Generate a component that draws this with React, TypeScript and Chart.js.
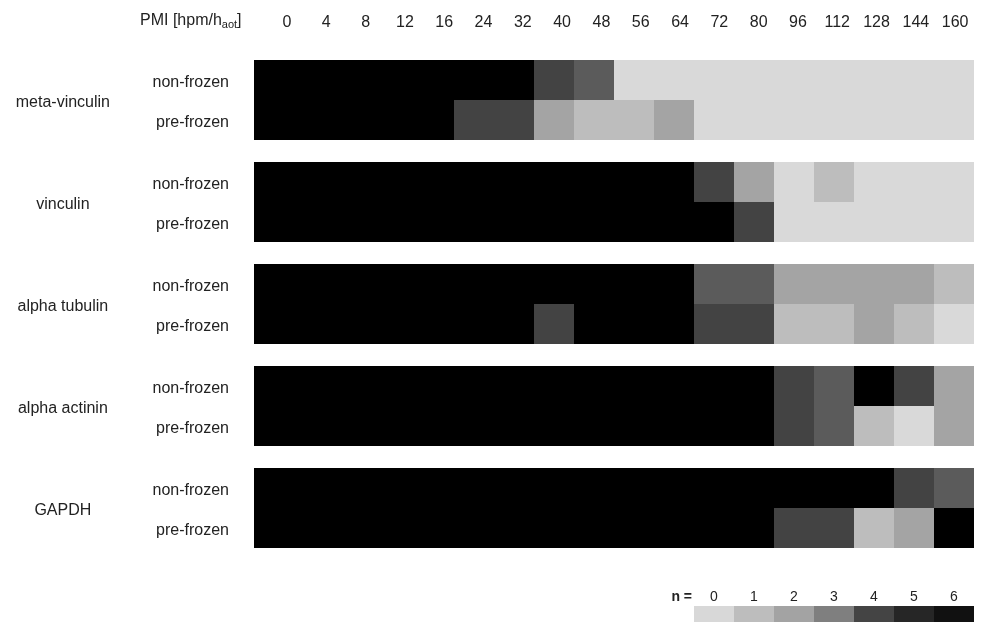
import React, { useEffect, useRef } from "react";
import { Chart, registerables } from "chart.js";

Chart.register(...registerables);

const FONT = "'Liberation Sans', Arial, sans-serif";
const TEXT = "#222222";

const pmiLabels = ["0", "4", "8", "12", "16", "24", "32", "40", "48", "56", "64", "72", "80", "96", "112", "128", "144", "160"];
const proteins = ["meta-vinculin", "vinculin", "alpha tubulin", "alpha actinin", "GAPDH"];
const conditions = ["non-frozen", "pre-frozen"];

const metaVinculinNonFrozen = [6, 6, 6, 6, 6, 6, 6, 4, 3, 0, 0, 0, 0, 0, 0, 0, 0, 0];
const metaVinculinPreFrozen = [6, 6, 6, 6, 6, 4, 4, 2, 1, 1, 2, 0, 0, 0, 0, 0, 0, 0];
const vinculinNonFrozen = [6, 6, 6, 6, 6, 6, 6, 6, 6, 6, 6, 4, 2, 0, 1, 0, 0, 0];
const vinculinPreFrozen = [6, 6, 6, 6, 6, 6, 6, 6, 6, 6, 6, 6, 4, 0, 0, 0, 0, 0];
const alphaTubulinNonFrozen = [6, 6, 6, 6, 6, 6, 6, 6, 6, 6, 6, 3, 3, 2, 2, 2, 2, 1];
const alphaTubulinPreFrozen = [6, 6, 6, 6, 6, 6, 6, 4, 6, 6, 6, 4, 4, 1, 1, 2, 1, 0];
const alphaActininNonFrozen = [6, 6, 6, 6, 6, 6, 6, 6, 6, 6, 6, 6, 6, 4, 3, 6, 4, 2];
const alphaActininPreFrozen = [6, 6, 6, 6, 6, 6, 6, 6, 6, 6, 6, 6, 6, 4, 3, 1, 0, 2];
const gapdhNonFrozen = [6, 6, 6, 6, 6, 6, 6, 6, 6, 6, 6, 6, 6, 6, 6, 6, 4, 3];
const gapdhPreFrozen = [6, 6, 6, 6, 6, 6, 6, 6, 6, 6, 6, 6, 6, 4, 4, 1, 2, 6];

const rowValues = [
  metaVinculinNonFrozen, metaVinculinPreFrozen,
  vinculinNonFrozen, vinculinPreFrozen,
  alphaTubulinNonFrozen, alphaTubulinPreFrozen,
  alphaActininNonFrozen, alphaActininPreFrozen,
  gapdhNonFrozen, gapdhPreFrozen,
];

// cell shades as rendered in the heatmap, indexed by n
const cellColors = ["#d9d9d9", "#bdbdbd", "#a4a4a4", "#5b5b5b", "#434343", "#262626", "#000000"];
// legend key
const legendLevels = [0, 1, 2, 3, 4, 5, 6];
const legendColors = ["#d8d8d8", "#bdbdbd", "#a3a3a3", "#7f7f7f", "#444444", "#262626", "#111111"];

const GROUP_PITCH = 2.55;
const LABEL_NUDGE = 0.06;

export default function App() {
  const canvasRef = useRef<HTMLCanvasElement | null>(null);

  useEffect(() => {
    const canvas = canvasRef.current;
    if (!canvas) return;

    const cells: any[] = [];
    const colors: string[] = [];
    const rowPositions: number[] = [];
    rowValues.forEach((vals, r) => {
      const g = Math.floor(r / 2);
      const c = r % 2;
      const y = g * GROUP_PITCH + c;
      rowPositions.push(y);
      vals.forEach((v, i) => {
        cells.push({ x: [i, i + 1], y });
        colors.push(cellColors[v]);
      });
    });
    const groupPositions = proteins.map((_, g) => g * GROUP_PITCH + 0.5);
    const yMin = -0.5;
    const yMax = (proteins.length - 1) * GROUP_PITCH + 1.5;

    const overlay = {
      id: "overlay",
      afterDraw(chart: any) {
        const ctx = chart.ctx;
        const xs = chart.scales.x;
        const H = chart.height;
        ctx.save();
        ctx.fillStyle = TEXT;
        ctx.textBaseline = "middle";
        ctx.textAlign = "left";
        // axis title with subscript
        let tx = 140;
        const ty = 20.5;
        const t1 = "PMI [hpm/h";
        ctx.font = `16px ${FONT}`;
        ctx.fillText(t1, tx, ty);
        tx += ctx.measureText(t1).width;
        ctx.font = `11px ${FONT}`;
        ctx.fillText("aot", tx, ty + 4);
        tx += ctx.measureText("aot").width;
        ctx.font = `16px ${FONT}`;
        ctx.fillText("]", tx, ty);

        // legend key
        const labelY = H - 25;
        const swTop = H - 16;
        const startCol = pmiLabels.length - legendLevels.length;
        ctx.font = `14px ${FONT}`;
        ctx.textAlign = "center";
        legendLevels.forEach((lvl, i) => {
          const x0 = xs.getPixelForValue(startCol + i);
          const x1 = xs.getPixelForValue(startCol + i + 1);
          ctx.fillStyle = legendColors[i];
          ctx.fillRect(x0, swTop, x1 - x0, 16);
          ctx.fillStyle = TEXT;
          ctx.fillText(String(lvl), (x0 + x1) / 2, labelY);
        });
        ctx.font = `bold 14px ${FONT}`;
        ctx.textAlign = "right";
        ctx.fillText("n =", xs.getPixelForValue(startCol) - 2, labelY);
        ctx.restore();
      },
    };

    const chart = new Chart(canvas, {
      type: "bar",
      data: {
        datasets: [
          {
            data: cells,
            backgroundColor: colors,
            borderWidth: 0,
            inflateAmount: 0,
            categoryPercentage: 1,
            barPercentage: 1,
            xAxisID: "x",
            yAxisID: "y",
          } as any,
        ],
      },
      options: {
        indexAxis: "y",
        animation: false,
        responsive: true,
        maintainAspectRatio: false,
        layout: { padding: { left: 0, right: 9, top: 0, bottom: 74 } },
        plugins: { legend: { display: false }, tooltip: { enabled: false } },
        scales: {
          x: { type: "linear", min: 0, max: pmiLabels.length, display: false, offset: false },
          xTop: {
            type: "linear",
            position: "top",
            offset: false,
            min: -0.84,
            max: pmiLabels.length - 1 + 0.48,
            grid: { display: false, drawTicks: false, offset: false },
            border: { display: false },
            afterBuildTicks: (s: any) => {
              s.ticks = pmiLabels.map((_, i) => ({ value: i }));
            },
            afterFit: (s: any) => {
              s.height = 60;
              s.paddingLeft = 0;
              s.paddingRight = 0;
            },
            ticks: {
              padding: 28,
              autoSkip: false,
              maxRotation: 0,
              color: TEXT,
              font: { family: FONT, size: 16 },
              callback: (_v: any, i: number) => pmiLabels[i],
            },
          },
          y: {
            type: "linear",
            position: "left",
            reverse: true,
            offset: false,
            min: yMin,
            max: yMax,
            weight: 0,
            grid: { display: false, drawTicks: false, offset: false },
            border: { display: false },
            afterBuildTicks: (s: any) => {
              s.ticks = rowPositions.map((v) => ({ value: v + LABEL_NUDGE }));
            },
            afterFit: (s: any) => {
              s.width = 114;
            },
            ticks: {
              padding: 25,
              crossAlign: "near",
              autoSkip: false,
              color: TEXT,
              font: { family: FONT, size: 16 },
              callback: (_v: any, i: number) => conditions[i % 2],
            },
          },
          yGroup: {
            type: "linear",
            position: "left",
            reverse: true,
            offset: false,
            min: yMin,
            max: yMax,
            weight: 1,
            grid: { display: false, drawTicks: false, offset: false },
            border: { display: false },
            afterBuildTicks: (s: any) => {
              s.ticks = groupPositions.map((v) => ({ value: v + LABEL_NUDGE }));
            },
            afterFit: (s: any) => {
              s.width = 140;
            },
            ticks: {
              padding: 30,
              crossAlign: "center",
              autoSkip: false,
              color: TEXT,
              font: { family: FONT, size: 16 },
              callback: (_v: any, i: number) => proteins[i],
            },
          },
        } as any,
      },
      plugins: [overlay],
    });

    return () => chart.destroy();
  }, []);

  return (
    <div style={{ position: "absolute", left: 0, top: 0, width: 983, height: 622, background: "#fff" }}>
      <canvas ref={canvasRef} />
    </div>
  );
}
